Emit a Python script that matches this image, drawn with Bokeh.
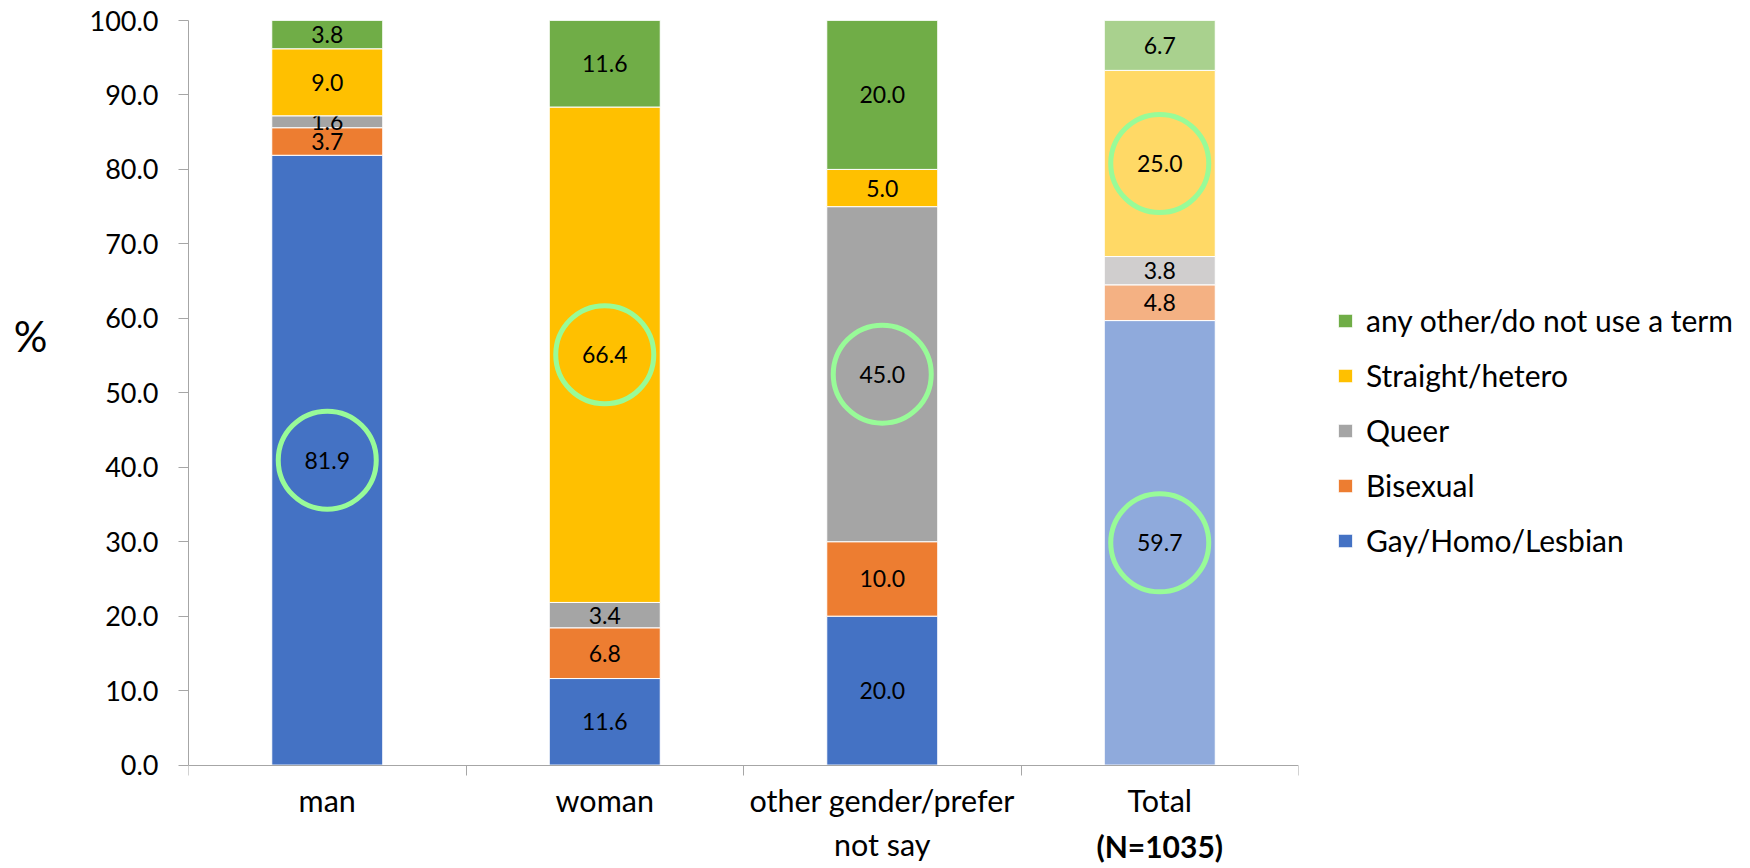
from bokeh.plotting import figure
from bokeh.models import (ColumnDataSource, Range1d, LinearAxis,
                          FixedTicker, PrintfTickFormatter, Legend, LegendItem, Label,
                          CustomJSTickFormatter)
from bokeh.core.properties import value
from bokeh.embed import file_html
from bokeh.resources import INLINE

# ---------------- data ----------------
categories = ["man", "woman", "other gender/prefer\nnot say", "Total"]
total_note = "(N=1035)"
y_title = "%"
series = ["Gay/Homo/Lesbian", "Bisexual", "Queer", "Straight/hetero",
          "any other/do not use a term"]
gay = [81.9, 11.6, 20.0, 59.7]
bisexual = [3.7, 6.8, 10.0, 4.8]
queer = [1.6, 3.4, 45.0, 3.8]
straight = [9.0, 66.4, 5.0, 25.0]
other = [3.8, 11.6, 20.0, 6.7]
values = [gay, bisexual, queer, straight, other]
colors = ["#4472C4", "#ED7D31", "#A5A5A5", "#FFC000", "#70AD47"]
total_colors = ["#8FAADC", "#F4B183", "#D0CECE", "#FFD966", "#A9D18E"]
y_ticks = [0, 10, 20, 30, 40, 50, 60, 70, 80, 90, 100]
# (category index, series index) of circled values
highlights = [(0, 0), (1, 3), (2, 2), (3, 3), (3, 0)]

FONT = "Lato"
AXIS_GREY = "#A6A6A6"
n = len(categories)
xs = [i + 0.5 for i in range(n)]          # category centres on a 0..n axis
Y_LOW = -13.62                             # room below 0 for the category labels

# 100% stacked: each column is scaled to a total of 100
col_totals = [sum(v[j] for v in values) for j in range(n)]

p = figure(x_range=Range1d(0, n), y_range=Range1d(Y_LOW, 100),
           frame_width=1110, frame_height=846,
           min_border_left=188, min_border_top=20, min_border_right=445,
           min_border_bottom=0,
           x_axis_location=None, y_axis_location=None,
           output_backend="svg", toolbar_location=None,
           outline_line_color=None, background_fill_color="white")
p.xgrid.visible = False
p.ygrid.visible = False

# ---------------- bars ----------------
bottoms = [0.0] * n
renderers = []
mids = {}
for i, (name, vals) in enumerate(zip(series, values)):
    b = list(bottoms)
    t = [bb + v * 100.0 / tot for bb, v, tot in zip(b, vals, col_totals)]
    cols = [total_colors[i] if c == "Total" else colors[i] for c in categories]
    mid = [(bb + tt) / 2 for bb, tt in zip(b, t)]
    for j, m in enumerate(mid):
        mids[(j, i)] = m
    src = ColumnDataSource(dict(x=xs, bottom=b, top=t, color=cols,
                                mid=mid, label=["%.1f" % v for v in vals]))
    r = p.vbar(x="x", bottom="bottom", top="top", width=0.4, source=src,
               fill_color="color", line_color="white", line_width=1)
    renderers.append(r)
    p.text(x="x", y="mid", text="label", source=src, text_align="center",
           text_baseline="middle", text_font=value(FONT), text_font_size="23px",
           text_color="black")
    bottoms = t

# circles
hx = [xs[j] for j, i in highlights]
hy = [mids[(j, i)] for j, i in highlights]
p.scatter(x=hx, y=hy, marker="circle", size=98, fill_alpha=0,
          line_color="#98FB98", line_width=5)

# ---------------- axes ----------------
yaxis = LinearAxis(ticker=FixedTicker(ticks=y_ticks),
                   formatter=PrintfTickFormatter(format="%.1f"),
                   bounds=(0, 100),
                   major_tick_out=10, major_tick_in=0,
                   minor_tick_out=0, minor_tick_in=0,
                   axis_line_color=AXIS_GREY, major_tick_line_color=AXIS_GREY,
                   major_label_text_font=FONT, major_label_text_font_size="27px",
                   major_label_text_color="black", major_label_standoff=20)
p.add_layout(yaxis, "left")

# horizontal "%" title, carried by a second left axis with a single tick
ytitle_axis = LinearAxis(ticker=FixedTicker(ticks=[57.65]),
                         formatter=CustomJSTickFormatter(args=dict(t=y_title),
                                                         code="return t"),
                         major_tick_out=0, major_tick_in=0,
                         minor_tick_out=0, minor_tick_in=0,
                         axis_line_color=None, major_tick_line_color=None,
                         major_label_text_font=FONT, major_label_text_font_size="42px",
                         major_label_text_color="black", major_label_standoff=39)
p.add_layout(ytitle_axis, "left")

sep = LinearAxis(ticker=FixedTicker(ticks=list(range(n + 1))),
                 formatter=CustomJSTickFormatter(code="return ''"),
                 fixed_location=0,
                 major_tick_out=10, major_tick_in=0,
                 minor_tick_out=0, minor_tick_in=0,
                 axis_line_color=AXIS_GREY, major_tick_line_color=AXIS_GREY,
                 major_label_text_font_size="1px", major_label_standoff=0)
p.add_layout(sep, "below")

xaxis = LinearAxis(ticker=FixedTicker(ticks=xs),
                   formatter=CustomJSTickFormatter(args=dict(labels=categories),
                                                   code="return labels[Math.round(tick - 0.5)]"),
                   fixed_location=0,
                   major_tick_out=0, major_tick_in=0,
                   minor_tick_out=0, minor_tick_in=0, axis_line_color=None,
                   major_label_text_font=FONT, major_label_text_font_size="30.5px",
                   major_label_text_color="black", major_label_standoff=17,
                   major_label_text_line_height=1.22)
p.add_layout(xaxis, "below")

p.add_layout(Label(x=xs[categories.index("Total")], y=-10.8,
                   text=total_note, text_font=FONT, text_font_size="30px",
                   text_font_style="bold", text_align="center",
                   text_baseline="middle", text_color="black"))

# ---------------- legend ----------------
items = [LegendItem(label=series[i], renderers=[renderers[i]], index=0)
         for i in reversed(range(len(series)))]
legend = Legend(items=items, location=(38, 308), orientation="vertical",
                label_text_font=FONT, label_text_font_size="30px",
                label_text_color="black",
                glyph_width=18, glyph_height=17, label_standoff=12, spacing=19,
                padding=0, margin=0, border_line_color=None,
                background_fill_alpha=0)
p.add_layout(legend, "right")

open("out.html", "w").write(file_html(p, INLINE))
